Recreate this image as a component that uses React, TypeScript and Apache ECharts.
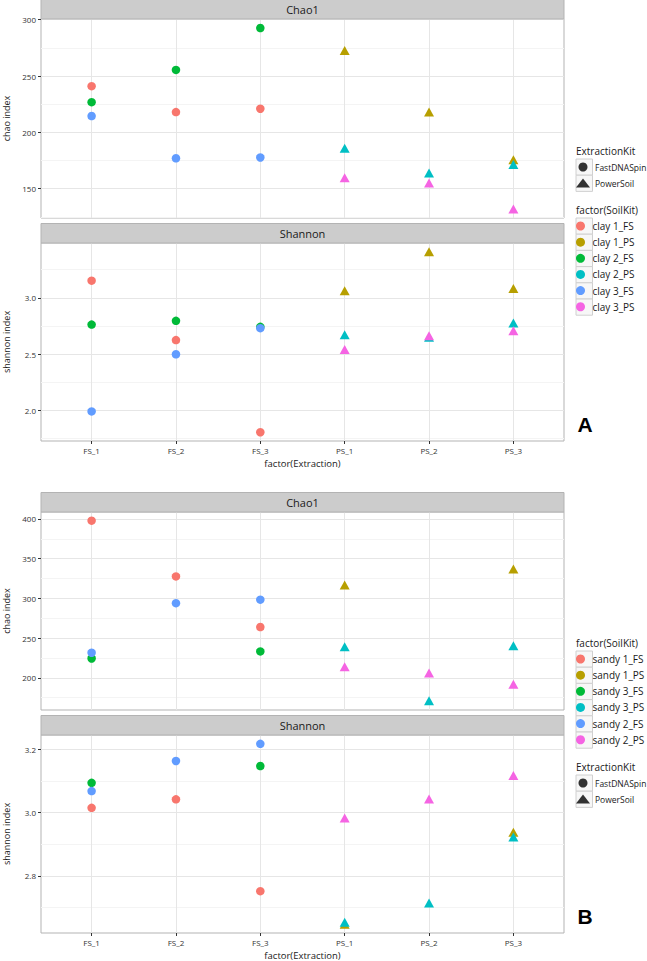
import React, { useEffect, useRef } from 'react';
import * as echarts from 'echarts';

const extraction = ['FS_1', 'FS_2', 'FS_3', 'PS_1', 'PS_2', 'PS_3'];
const kits = ['FastDNASpin', 'PowerSoil'];
const clayGroups = ['clay 1_FS', 'clay 1_PS', 'clay 2_FS', 'clay 2_PS', 'clay 3_FS', 'clay 3_PS'];
const sandyGroups = ['sandy 1_FS', 'sandy 1_PS', 'sandy 3_FS', 'sandy 3_PS', 'sandy 2_FS', 'sandy 2_PS'];
const hueColors = ['#F8766D', '#B79F00', '#00BA38', '#00BFC4', '#619CFF', '#F564E3'];

// each row: a group's values at its three extractions (FS groups -> FS_1..FS_3, PS groups -> PS_1..PS_3)
const clayChao1 = [
  [241, 218, 221],
  [272.6, 218, 175.6],
  [226.8, 255.4, 292.6],
  [186, 164, 171.4],
  [214.5, 177, 177.7],
  [159.8, 155, 132],
];
const clayShannon = [
  [3.152, 2.624, 1.805],
  [3.062, 3.41, 3.082],
  [2.762, 2.795, 2.742],
  [2.672, 2.65, 2.777],
  [1.99, 2.498, 2.73],
  [2.54, 2.663, 2.707],
];
const sandyChao1 = [
  [397.9, 327.7, 264],
  [316.9, null, 337],
  [224.4, null, 233.3],
  [239, 171, 240.4],
  [231.6, 294, 298.4],
  [214, 206, 192],
];
const sandyShannon = [
  [3.015, 3.042, 2.752],
  [2.648, null, 2.938],
  [3.094, null, 3.147],
  [2.654, 2.715, 2.923],
  [3.068, 3.163, 3.217],
  [2.983, 3.043, 3.117],
];

const chaoTicksA = [150, 200, 250, 300];
const chaoMinorA = [125, 175, 225, 275];
const shannonTicksA = [2.0, 2.5, 3.0];
const shannonMinorA = [1.75, 2.25, 2.75, 3.25];
const chaoTicksB = [200, 250, 300, 350, 400];
const chaoMinorB = [175, 225, 275, 325, 375];
const shannonTicksB = [2.8, 3.0, 3.2];
const shannonMinorB = [2.7, 2.9, 3.1];

const FONT = '"Open Sans", "DejaVu Sans", sans-serif';
const GRID_LEFT = 41;
const GRID_WIDTH = 523;

const panels = [
  { top: 19, height: 199, strip: 'Chao1', values: clayChao1, groups: clayGroups, ticks: chaoTicksA, minor: chaoMinorA, min: 124, max: 300.6, yName: 'chao index', dec: 0, bottom: false, xGap: 17 },
  { top: 243, height: 198, strip: 'Shannon', values: clayShannon, groups: clayGroups, ticks: shannonTicksA, minor: shannonMinorA, min: 1.727, max: 3.487, yName: 'shannon index', dec: 1, bottom: true, xGap: 17 },
  { top: 512, height: 198, strip: 'Chao1', values: sandyChao1, groups: sandyGroups, ticks: chaoTicksB, minor: chaoMinorB, min: 159.5, max: 408.8, yName: 'chao index', dec: 0, bottom: false, xGap: 17 },
  { top: 735, height: 198, strip: 'Shannon', values: sandyShannon, groups: sandyGroups, ticks: shannonTicksB, minor: shannonMinorB, min: 2.62, max: 3.245, yName: 'shannon index', dec: 1, bottom: true, xGap: 17.5 },
];

const catPositions = extraction.map((_, i) => i + 1);

function buildOption() {
  const grid: any[] = [];
  const xAxis: any[] = [];
  const yAxis: any[] = [];
  const series: any[] = [];
  const graphic: any[] = [];

  panels.forEach((p, pi) => {
    grid.push({
      left: GRID_LEFT, top: p.top, width: GRID_WIDTH, height: p.height,
      containLabel: false, outerBoundsMode: 'none',
      show: true, borderColor: '#b3b3b3', borderWidth: 1, backgroundColor: '#fff',
    });
    xAxis.push({
      type: 'value', gridIndex: pi, min: 0.4, max: 6.6, position: 'bottom',
      axisLine: { show: false },
      axisTick: { show: p.bottom, customValues: catPositions, length: 3, lineStyle: { color: '#333', width: 1 } },
      axisLabel: {
        show: p.bottom, customValues: catPositions, fontSize: 8, color: '#333', fontFamily: FONT, margin: 5,
        formatter: (v: number) => extraction[Math.round(v) - 1] || '',
      },
      splitLine: { show: true, lineStyle: { color: '#e6e6e6', width: 1 } },
      name: p.bottom ? 'factor(Extraction)' : '',
      nameLocation: 'middle', nameGap: p.xGap,
      nameTextStyle: { fontSize: 9.5, color: '#1a1a1a', fontFamily: FONT },
    });
    // minor grid axis
    yAxis.push({
      type: 'value', gridIndex: pi, min: p.min, max: p.max, position: 'left', offset: 0,
      axisLine: { show: false },
      axisLabel: { show: false, customValues: p.minor },
      axisTick: { show: false, customValues: p.minor },
      splitLine: { show: true, lineStyle: { color: '#f4f4f4', width: 1 } },
    });
    // major axis
    yAxis.push({
      type: 'value', gridIndex: pi, min: p.min, max: p.max, position: 'left', offset: 0,
      axisLine: { show: false },
      axisTick: { show: true, customValues: p.ticks, length: 3, lineStyle: { color: '#333', width: 1 } },
      axisLabel: {
        customValues: p.ticks, fontSize: 8, color: '#333', fontFamily: FONT, margin: 5,
        formatter: (v: number) => v.toFixed(p.dec),
      },
      splitLine: { show: true, lineStyle: { color: '#e6e6e6', width: 1 } },
      name: p.yName, nameLocation: 'middle', nameRotate: 90, nameGap: 30,
      nameTextStyle: { fontSize: 9, color: '#1a1a1a', fontFamily: FONT },
    });

    p.groups.forEach((g, gi) => {
      const isFS = g.endsWith('_FS');
      const offset = isFS ? 0 : 3;
      const data: any[] = [];
      p.values[gi].forEach((v, j) => {
        if (v !== null && v !== undefined) data.push([catPositions[offset + j], v]);
      });
      series.push({
        type: 'scatter', name: g, xAxisIndex: pi, yAxisIndex: pi * 2 + 1,
        symbol: isFS ? 'circle' : 'triangle',
        symbolSize: isFS ? 8.5 : [10, 9],
        itemStyle: { color: hueColors[gi], opacity: 1 },
        data,
        z: 3,
      });
    });

    // strip
    const stripTop = p.top - 19.5;
    graphic.push({
      type: 'rect', shape: { x: GRID_LEFT, y: stripTop, width: GRID_WIDTH, height: 19.5 },
      style: { fill: '#cccccc', stroke: '#b3b3b3', lineWidth: 1 }, z: 10,
    });
    graphic.push({
      type: 'text', x: GRID_LEFT + GRID_WIDTH / 2, y: stripTop + 10, z: 11,
      style: { text: p.strip, fontSize: 11, fontFamily: FONT, fill: '#1a1a1a', align: 'center', verticalAlign: 'middle', textAlign: 'center', textVerticalAlign: 'middle' },
    });
  });

  kits.forEach((k, i) => {
    series.push({
      type: 'scatter', name: k, xAxisIndex: 0, yAxisIndex: 1, data: [],
      symbol: i === 0 ? 'circle' : 'triangle', itemStyle: { color: '#000' },
    });
  });

  const legendBase = {
    orient: 'vertical', left: 576, itemWidth: 14, itemHeight: 9, padding: 0, selectedMode: false,
  };
  const kitLegend = (top: number) => ({
    ...legendBase, top, itemGap: 4,
    data: kits.map((k, i) => ({ name: k, icon: i === 0 ? 'circle' : 'triangle' })),
    textStyle: { fontSize: 8.5, lineHeight: 12, color: '#1a1a1a', fontFamily: FONT },
  });
  const soilLegend = (top: number, groups: string[]) => ({
    ...legendBase, top, itemGap: 4.15,
    data: groups.map((g) => ({ name: g, icon: 'circle' })),
    textStyle: { fontSize: 10, lineHeight: 12, color: '#1a1a1a', fontFamily: FONT },
  });
  const legend = [
    kitLegend(161),
    soilLegend(220, clayGroups),
    soilLegend(653, sandyGroups),
    kitLegend(777),
  ];

  const keyBoxes = (top: number, n: number, pitch: number) => {
    for (let i = 0; i < n; i++) {
      graphic.push({
        type: 'rect', shape: { x: 576, y: top + i * pitch, width: 16.5, height: pitch },
        style: { fill: '#f7f7f7', stroke: '#d0d0d0', lineWidth: 1 }, z: -1, silent: true,
      });
    }
  };
  keyBoxes(159, 2, 16.2);
  keyBoxes(218, 6, 16.2);
  keyBoxes(651, 6, 16.2);
  keyBoxes(775, 2, 16.2);

  const legendTitle = (text: string, y: number) => graphic.push({
    type: 'text', x: 576, y, z: 11,
    style: { text, fontSize: 10, fontFamily: FONT, fill: '#1a1a1a', align: 'left', verticalAlign: 'middle', textAlign: 'left', textVerticalAlign: 'middle' },
  });
  legendTitle('ExtractionKit', 150.5);
  legendTitle('factor(SoilKit)', 210);
  legendTitle('factor(SoilKit)', 642.5);
  legendTitle('ExtractionKit', 766.5);

  const panelTag = (text: string, y: number) => graphic.push({
    type: 'text', x: 585, y, z: 11,
    style: { text, fontSize: 21, fontWeight: 'bold', fontFamily: '"Liberation Sans", Arial, sans-serif', fill: '#000', align: 'center', verticalAlign: 'middle', textAlign: 'center', textVerticalAlign: 'middle' },
  });
  panelTag('A', 424);
  panelTag('B', 916);

  return {
    animation: false,
    backgroundColor: '#ffffff',
    textStyle: { fontFamily: FONT },
    grid, xAxis, yAxis, series, legend, graphic,
  };
}

export default function App() {
  const ref = useRef<HTMLDivElement>(null);
  useEffect(() => {
    document.body.style.margin = '0';
    if (!ref.current) return;
    const chart = echarts.init(ref.current, null, { renderer: 'svg' });
    chart.setOption(buildOption() as any);
    return () => chart.dispose();
  }, []);
  return <div ref={ref} style={{ width: 647, height: 961 }} />;
}
